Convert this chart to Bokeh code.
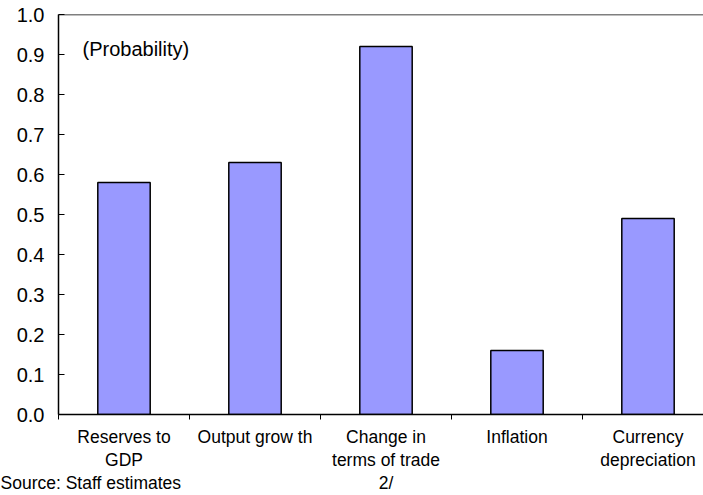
from bokeh.plotting import figure
from bokeh.models import Range1d, FixedTicker, LinearAxis, Span, NumeralTickFormatter
from bokeh.embed import file_html
from bokeh.resources import INLINE
from bokeh.core.properties import value

# Probability of each indicator
categories = ["Reserves to\nGDP", "Output grow th", "Change in\nterms of trade\n2/",
              "Inflation", "Currency\ndepreciation"]
probability = [0.58, 0.63, 0.92, 0.16, 0.49]
y_ticks = [0.0, 0.1, 0.2, 0.3, 0.4, 0.5, 0.6, 0.7, 0.8, 0.9, 1.0]
source_note = "Source: Staff estimates"

FONT = "Liberation Sans"

n = len(categories)
centers = [i + 0.5 for i in range(n)]
bounds = list(range(n + 1))

p = figure(width=703, height=495, output_backend="svg", toolbar_location=None,
           x_range=Range1d(0, 645 / 131), y_range=Range1d(0, 1.0),
           x_axis_location=None, y_axis_location=None,
           min_border_left=58, min_border_right=0, min_border_top=14, min_border_bottom=81)
p.outline_line_color = None
p.grid.visible = False
p.background_fill_color = "white"
p.border_fill_color = "white"

p.vbar(x=centers, top=probability, width=0.4, bottom=0,
       fill_color="#9999FF", line_color="black", line_width=1.5)

# y axis with inward ticks
yax = LinearAxis(ticker=FixedTicker(ticks=y_ticks), formatter=NumeralTickFormatter(format="0.0"))
yax.major_tick_in = 6
yax.major_tick_out = 0
yax.minor_tick_line_color = None
yax.axis_line_width = 1.5
yax.axis_line_color = "black"
yax.major_tick_line_color = "black"
yax.major_label_standoff = 14
yax.major_label_text_font = FONT
yax.major_label_text_font_size = "20px"
yax.major_label_text_color = "black"
p.add_layout(yax, "left")

# x axis: boundary ticks only
xax = LinearAxis(ticker=FixedTicker(ticks=bounds))
xax.major_tick_in = 0
xax.major_tick_out = 5
xax.minor_tick_line_color = None
xax.axis_line_width = 1.5
xax.axis_line_color = "black"
xax.major_label_text_font_size = "0px"
xax.major_label_standoff = 0
xax.major_label_overrides = {b: "" for b in bounds}
p.add_layout(xax, "below")

# category labels centered under each bar, plus the source note in the third row
source_x = 0.244
cax = LinearAxis(ticker=FixedTicker(ticks=[source_x] + centers))
cax.axis_line_color = None
cax.major_tick_line_color = None
cax.minor_tick_line_color = None
cax.major_label_standoff = 1
cax.major_label_text_font = FONT
cax.major_label_text_font_size = "17.5px"
cax.major_label_text_color = "black"
cax.major_label_text_line_height = 1.15
overrides = {c: lab for c, lab in zip(centers, categories)}
overrides[source_x] = "\n\n" + source_note
cax.major_label_overrides = overrides
p.add_layout(cax, "below")

# top border
p.add_layout(Span(location=1.0, dimension="width", line_color="black", line_width=1.5))

p.text(x=[0.183], y=[0.915], text=["(Probability)"], text_font=value(FONT),
       text_font_size="20px", text_baseline="middle", text_align="left", text_color="black")

open("out.html", "w").write(file_html(p, INLINE))
